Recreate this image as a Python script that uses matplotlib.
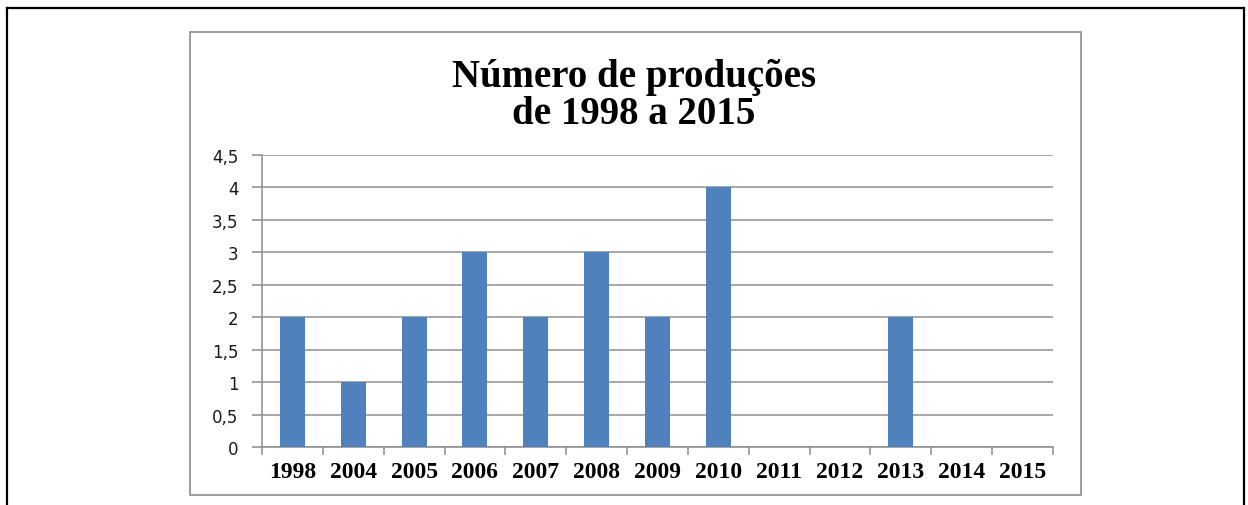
import matplotlib.pyplot as plt
import numpy as np
from matplotlib.lines import Line2D
from matplotlib.patches import Rectangle

anos = ['1998', '2004', '2005', '2006', '2007', '2008', '2009',
        '2010', '2011', '2012', '2013', '2014', '2015']
producoes = [2, 1, 2, 3, 2, 3, 2, 4, 0, 0, 2, 0, 0]
yticks = [0, 0.5, 1, 1.5, 2, 2.5, 3, 3.5, 4, 4.5]
titulo = 'Número de produções\nde 1998 a 2015'

W, H = 1248, 506
fig = plt.figure(figsize=(W / 100, H / 100), dpi=100)

# moldura preta externa (sem borda inferior)
preto = dict(color='black', lw=1.6, transform=fig.transFigure)
fig.add_artist(Line2D([7 / W, 7 / W], [0, 1 - 9 / H], **preto))
fig.add_artist(Line2D([7 / W, 1244 / W], [1 - 9 / H, 1 - 9 / H], **preto))
fig.add_artist(Line2D([1244 / W, 1244 / W], [0, 1 - 9 / H], **preto))

# caixa do grafico
fig.add_artist(Rectangle((190 / W, 1 - 496 / H), (1081 - 190) / W, (496 - 33) / H,
                         transform=fig.transFigure, fill=False,
                         edgecolor='#8c8c8c', lw=1.2))

ax = fig.add_axes([262 / W, 1 - 448 / H, (1053 - 262) / W, (448 - 156) / H])
x = np.arange(len(anos))
ax.bar(x, producoes, width=0.41, color='#4f81bd', zorder=3)

ax.set_xlim(-0.5, len(anos) - 0.5)
ax.set_ylim(0, 4.5)
ax.set_yticks(yticks)
ax.set_yticklabels([('%g' % v).replace('.', ',') for v in yticks],
                   fontsize=12, color='#1a1a1a', family='DejaVu Sans')
ax.set_xticks(x)
ax.set_xticklabels(anos, fontsize=17, fontweight='bold', family='Liberation Serif')
ax.set_xticks(np.arange(-0.5, len(anos)), minor=True)
ax.tick_params(axis='x', which='major', length=0, pad=10)
ax.tick_params(axis='x', which='minor', length=6, color='#8c8c8c', width=1.1)
ax.tick_params(axis='y', length=7, color='#8c8c8c', width=1.1, pad=10)

ax.grid(axis='y', color='#a0a0a0', lw=1.3, zorder=0)
for s in ['top', 'right']:
    ax.spines[s].set_visible(False)
for s in ['left', 'bottom']:
    ax.spines[s].set_color('#8c8c8c')
    ax.spines[s].set_linewidth(1.1)

fig.text(634 / W, 1 - 124 / H, titulo, ha='center', va='baseline',
         multialignment='center', linespacing=1.0,
         fontsize=28, fontweight='bold', family='Liberation Serif')

fig.savefig('out.png', dpi=100)
